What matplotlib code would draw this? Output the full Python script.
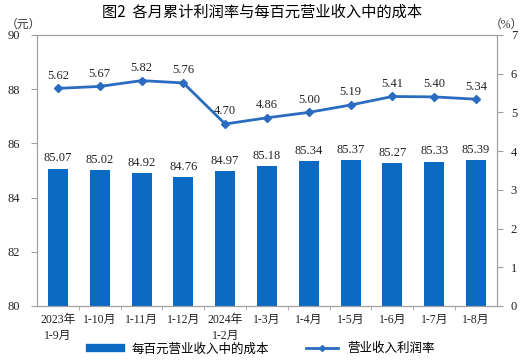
import matplotlib
matplotlib.use("Agg")
import matplotlib.pyplot as plt
from matplotlib.lines import Line2D

categories = ["2023年\n1-9月", "1-10月", "1-11月", "1-12月", "2024年\n1-2月", "1-3月",
              "1-4月", "1-5月", "1-6月", "1-7月", "1-8月"]
cost = [85.07, 85.02, 84.92, 84.76, 84.97, 85.18, 85.34, 85.37, 85.27, 85.33, 85.39]
profit_rate = [5.62, 5.67, 5.82, 5.76, 4.70, 4.86, 5.00, 5.19, 5.41, 5.40, 5.34]

fam = ['Liberation Serif', 'Noto Sans CJK SC']
plt.rcParams['font.family'] = fam
plt.rcParams['font.size'] = 9

bar_color = '#0a6ac2'
line_color = '#2a6cc0'
spine_color = '#a0a0a0'

fig = plt.figure(figsize=(5.25, 3.6), dpi=100)
ax = fig.add_axes([0.0705, 0.15, 0.876, 0.753])
ax2 = ax.twinx()

x = list(range(len(categories)))
ax.bar(x, cost, width=0.48, color=bar_color, zorder=2)
for xi, v in zip(x, cost):
    ax.text(xi, v + 0.15, f"{v:.2f}", ha='center', va='bottom', fontsize=9, color='#222222')

ax.set_ylim(80, 90)
ax.set_yticks([80, 82, 84, 86, 88, 90])
ax.set_xlim(-0.5, len(categories) - 0.5)
ax.set_xticks(x)
ax.set_xticklabels(categories, fontsize=8.5, color='#222222', linespacing=1.35)
ax.tick_params(axis='x', length=0, pad=6)
ax.set_xticks([i + 0.5 for i in x[:-1]], minor=True)
ax.tick_params(axis='x', which='minor', length=3, color=spine_color)
ax.tick_params(axis='y', length=4, color=spine_color, labelsize=9, labelcolor='#222222', pad=8)

ax2.plot(x, profit_rate, color=line_color, lw=2, marker='D', ms=4.5, zorder=3)
for xi, v in zip(x, profit_rate):
    ax2.text(xi, v + 0.17, f"{v:.2f}", ha='center', va='bottom', fontsize=9, color='#222222')
ax2.set_ylim(0, 7)
ax2.set_yticks(range(0, 8))
ax2.tick_params(axis='y', length=4, color=spine_color, labelsize=9, labelcolor='#222222', pad=6)

for a in (ax, ax2):
    for s in a.spines.values():
        s.set_color(spine_color)
        s.set_linewidth(0.8)

fig.text(0.5, 0.965, "图2  各月累计利润率与每百元营业收入中的成本", ha='center', va='center',
         fontsize=11, family=['Noto Sans CJK SC', 'DejaVu Sans'])
fig.text(0.045, 0.93, "（元）", ha='center', va='center', fontsize=8.5, color='#333333')
fig.text(0.997, 0.93, "（%）", ha='right', va='center', fontsize=8.5, color='#333333')

handles = [Line2D([0], [0], color=bar_color, lw=6),
           Line2D([0], [0], color=line_color, lw=2, marker='D', ms=3)]
fig.legend(handles, ["每百元营业收入中的成本", "营业收入利润率"], loc='center',
           bbox_to_anchor=(0.5, 0.03), ncol=2, frameon=False, fontsize=9,
           handlelength=2.5, columnspacing=3)

fig.savefig("out.png", dpi=100)
